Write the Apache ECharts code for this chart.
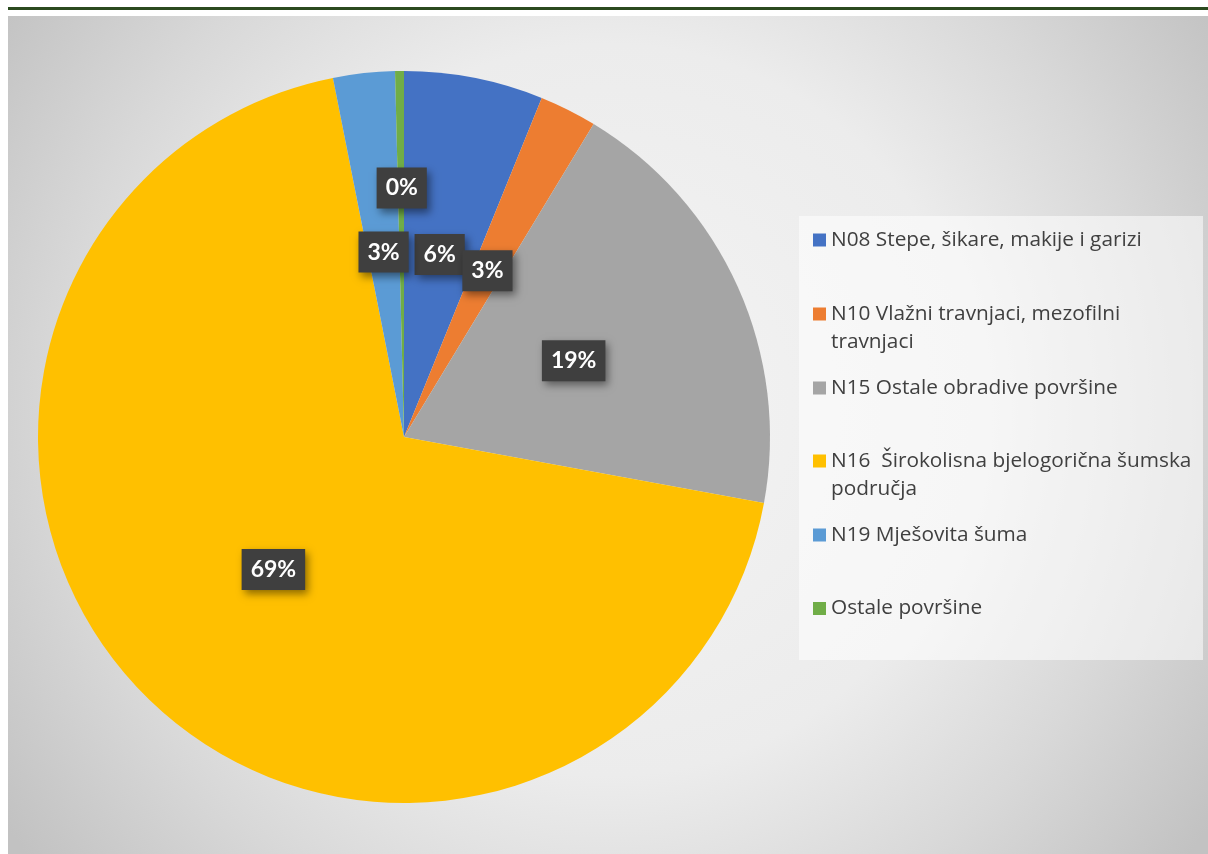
<!DOCTYPE html>
<html><head><meta charset="utf-8">
<script src="https://cdn.jsdelivr.net/npm/echarts@6/dist/echarts.min.js"></script>
<style>html,body{margin:0;padding:0;background:#fff}#c{width:1208px;height:854px}</style>
</head><body><div id="c"></div>
<script>
const categories = ['N08 Stepe, šikare, makije i garizi', 'N10 Vlažni travnjaci, mezofilni travnjaci', 'N15 Ostale obradive površine', 'N16  Širokolisna bjelogorična šumska područja', 'N19 Mješovita šuma', 'Ostale površine'];
const legendLabels = ['N08 Stepe, šikare, makije i garizi', 'N10 Vlažni travnjaci, mezofilni\ntravnjaci', 'N15 Ostale obradive površine', 'N16  Širokolisna bjelogorična šumska\npodručja', 'N19 Mješovita šuma', 'Ostale površine'];
const values = [6.14, 2.53, 19.22, 69.0, 2.72, 0.39];
const colors = ['#4472C4', '#ED7D31', '#A5A5A5', '#FFC000', '#5B9BD5', '#70AD47'];

const legendCenters = [240, 314, 388, 461, 535, 608.5];
const LH = 28;

const chart = echarts.init(document.getElementById('c'), null, {renderer: 'canvas'});

const legends = categories.map((name, i) => {
  const two = legendLabels[i].indexOf('\n') >= 0;
  return {
    data: [name],
    orient: 'vertical',
    left: 813,
    top: two ? legendCenters[i] - 1.5 * LH : legendCenters[i] - LH / 2,
    padding: 0,
    itemWidth: 13,
    itemHeight: 13,
    icon: 'rect',
    selectedMode: false,
    formatter: () => (two ? '\u200b\n' : '') + legendLabels[i],
    textStyle: {
      fontFamily: 'Open Sans',
      fontSize: 20.8,
      color: '#404040',
      lineHeight: LH
    }
  };
});

chart.setOption({
  backgroundColor: '#ffffff',
  animation: false,
  graphic: [
    {type: 'rect', z: -20, shape: {x: 8, y: 7, width: 1200, height: 3}, style: {fill: '#2b4a1f'}},
    {type: 'rect', z: -20, shape: {x: 8, y: 16, width: 1200, height: 838},
      style: {fill: new echarts.graphic.RadialGradient(0.5, 0.47, 0.873, [
        {offset: 0, color: '#f4f4f4'},
        {offset: 0.5, color: '#ececec'},
        {offset: 0.75, color: '#d8d8d8'},
        {offset: 1, color: '#c2c2c2'}
      ])}},
    {type: 'rect', z: -10, shape: {x: 799, y: 216, width: 404, height: 444}, style: {fill: 'rgba(255,255,255,0.55)'}}
  ],
  legend: legends,
  series: [{
    type: 'pie',
    center: [404, 437],
    radius: [0, 366],
    startAngle: 90,
    clockwise: true,
    avoidLabelOverlap: false,
    silent: true,
    data: categories.map((n, i) => ({name: n, value: values[i], itemStyle: {color: colors[i]}})),
    label: {
      show: true,
      position: 'inside',
      formatter: p => Math.round(p.percent) + '%',
      color: '#ffffff',
      fontFamily: 'Lato',
      fontWeight: 'bold',
      fontSize: 23,
      lineHeight: 22,
      backgroundColor: '#3f3f3f',
      padding: [10, 9, 9, 9],
      shadowColor: 'rgba(0,0,0,0.45)',
      shadowBlur: 8,
      shadowOffsetX: 3,
      shadowOffsetY: 4
    },
    labelLine: {show: false},
    labelLayout: function (p) {
      if (p.dataIndex === 5) return {dy: -63};
    }
  }]
});
</script></body></html>
